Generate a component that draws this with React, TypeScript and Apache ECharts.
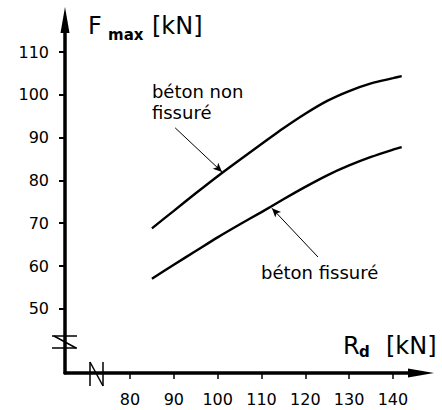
import React, { useEffect, useRef } from "react";
import * as echarts from "echarts";

const rdValues = [85, 90, 95, 100, 105, 110, 115, 120, 125, 130, 135, 140, 142];
const nonFissure = [68.8, 72.9, 77.0, 81.0, 84.8, 88.5, 92.2, 95.6, 98.6, 100.9, 102.7, 103.9, 104.4];
const fissure = [57.0, 60.3, 63.5, 66.7, 69.7, 72.6, 75.6, 78.5, 81.2, 83.5, 85.5, 87.2, 87.8];
const xTicks = [80, 90, 100, 110, 120, 130, 140];
const yTicks = [50, 60, 70, 80, 90, 100, 110];
const arrowNonFissure = [[90.3, 92.3], [101, 82]];
const arrowFissure = [[122.9, 62.1], [112.4, 73.5]];
const labelNonFissure = { x: 85, y1: 100.7, y2: 95.8 };
const labelFissure = { x: 109.9, y: 58.6 };

const FONT = "DejaVu Sans";

export default function App() {
  const ref = useRef<HTMLDivElement>(null);
  useEffect(() => {
    const chart = echarts.init(ref.current!, null, { renderer: "svg" });
    const xMin = 65.17, xMax = 146.4, yMin = 35, yMax = 117.5;
    chart.setOption({
      animation: false,
      backgroundColor: "#fff",
      textStyle: { fontFamily: FONT },
      grid: { left: 65, right: 21, top: 20, bottom: 37, outerBoundsMode: "none" },
      xAxis: {
        type: "value",
        min: xMin,
        max: xMax,
        axisLine: {
          onZero: false,
          lineStyle: { color: "#000", width: 3.5 },
          symbol: ["none", "triangle"],
          symbolSize: [9, 26],
        },
        axisTick: { show: true, length: 6, lineStyle: { width: 1.5, color: "#000" }, customValues: xTicks },
        axisLabel: { customValues: xTicks, margin: 18, fontSize: 16, color: "#000", fontFamily: FONT },
        splitLine: { show: false },
      },
      yAxis: {
        type: "value",
        min: yMin,
        max: yMax,
        axisLine: {
          show: true,
          onZero: false,
          lineStyle: { color: "#000", width: 3.5 },
          symbol: ["none", "triangle"],
          symbolSize: [9, 26],
        },
        axisTick: { show: true, length: 6, lineStyle: { width: 2, color: "#000" }, customValues: yTicks },
        axisLabel: { customValues: yTicks, margin: 16, fontSize: 16, color: "#000", fontFamily: FONT },
        splitLine: { show: false },
      },
      series: [
        {
          name: "béton non fissuré",
          type: "line",
          smooth: 0.3,
          showSymbol: false,
          data: rdValues.map((x, i) => [x, nonFissure[i]]),
          lineStyle: { color: "#000", width: 2.4 },
          markLine: {
            silent: true,
            symbol: ["none", "arrow"],
            symbolSize: [6, 9],
            label: { show: false },
            lineStyle: { color: "#000", width: 1, type: "solid" },
            data: [[{ coord: arrowNonFissure[0] }, { coord: arrowNonFissure[1] }]],
          },
        },
        {
          name: "béton fissuré",
          type: "line",
          smooth: 0.3,
          showSymbol: false,
          data: rdValues.map((x, i) => [x, fissure[i]]),
          lineStyle: { color: "#000", width: 2.4 },
          markLine: {
            silent: true,
            symbol: ["none", "arrow"],
            symbolSize: [6, 9],
            label: { show: false },
            lineStyle: { color: "#000", width: 1, type: "solid" },
            data: [[{ coord: arrowFissure[0] }, { coord: arrowFissure[1] }]],
          },
        },
      ],
    });

    const px = (x: number, y: number) => chart.convertToPixel({ gridIndex: 0 }, [x, y]) as number[];
    const [ox, oy] = px(xMin, yMin);
    const ln = { stroke: "#000", lineWidth: 1.5 };
    const t = (text: string, x: number, y: number, size: number, bold = false) => ({
      type: "text",
      x,
      y,
      style: { text, fontSize: size, fontFamily: FONT, fontWeight: bold ? "bold" : "normal", fill: "#000", align: "left", verticalAlign: "middle" },
    });
    const nf1 = px(labelNonFissure.x, labelNonFissure.y1);
    const nf2 = px(labelNonFissure.x, labelNonFissure.y2);
    const f1 = px(labelFissure.x, labelFissure.y);
    chart.setOption({
      graphic: [
        // y-axis break
        { type: "rect", shape: { x: ox - 4, y: oy - 36, width: 8, height: 11 }, style: { fill: "#fff" } },
        { type: "line", shape: { x1: ox - 13, y1: oy - 37, x2: ox + 12, y2: oy - 37 }, style: ln },
        { type: "line", shape: { x1: ox - 13, y1: oy - 25, x2: ox + 12, y2: oy - 25 }, style: ln },
        { type: "line", shape: { x1: ox - 11, y1: oy - 37, x2: ox + 11, y2: oy - 25 }, style: ln },
        // x-axis break
        { type: "rect", shape: { x: ox + 26, y: oy - 4, width: 11, height: 8 }, style: { fill: "#fff" } },
        { type: "line", shape: { x1: ox + 25, y1: oy - 11, x2: ox + 25, y2: oy + 13 }, style: ln },
        { type: "line", shape: { x1: ox + 25, y1: oy - 11, x2: ox + 38, y2: oy + 13 }, style: ln },
        { type: "line", shape: { x1: ox + 38, y1: oy - 11, x2: ox + 38, y2: oy + 13 }, style: ln },
        // axis titles
        t("F", 88, 26, 24),
        t("max", 108, 35, 15, true),
        t("[kN]", 152, 26, 24),
        t("R", 343, 346, 24),
        t("d", 359, 352, 15, true),
        t("[kN]", 386, 346, 24),
        // curve labels
        t("béton non", nf1[0], nf1[1], 18),
        t("fissuré", nf2[0], nf2[1], 18),
        t("béton fissuré", f1[0], f1[1], 18),
      ],
    });
    return () => chart.dispose();
  }, []);
  return <div ref={ref} style={{ position: "fixed", left: 0, top: 0, width: 442, height: 410 }} />;
}
